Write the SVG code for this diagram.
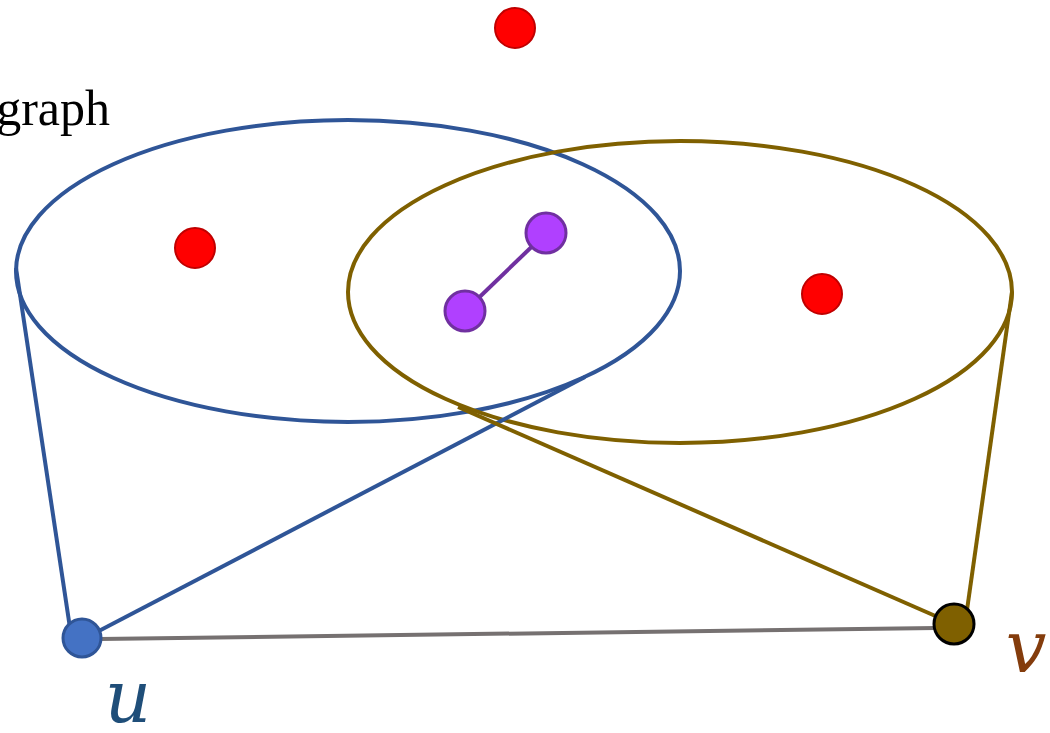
<svg xmlns="http://www.w3.org/2000/svg" width="1050" height="733" viewBox="0 0 1050 733">
<style>
.blue{stroke:#2f5597;stroke-width:4;fill:none}
.gold{stroke:#7f6000;stroke-width:4;fill:none}
.red{fill:#ff0000;stroke:#c00000;stroke-width:2}
.purple{fill:#b040ff;stroke:#7030a0;stroke-width:3}
</style>
<rect width="1050" height="733" fill="#fff"/>
<g id="connectors">
<ellipse class="blue" cx="348" cy="271" rx="332" ry="151"/>
<ellipse class="gold" cx="680" cy="292" rx="332" ry="151"/>
<line class="blue" x1="16" y1="268" x2="70" y2="628"/>
<line class="blue" x1="585" y1="377" x2="95" y2="633"/>
<line class="gold" x1="1012" y1="292" x2="967" y2="610"/>
<line class="gold" x1="458" y1="407" x2="940" y2="618"/>
<line x1="100" y1="639" x2="936" y2="628" stroke="#767171" stroke-width="4"/>
<line x1="465" y1="311" x2="546" y2="233" stroke="#7030a0" stroke-width="4"/>
</g>
<g id="label-graph"><text x="110" y="125" text-anchor="end" font-family="Liberation Serif, serif" font-size="50" fill="#000">graph</text></g>
<g id="red1"><circle class="red" cx="515" cy="28" r="20"/></g>
<g id="red2"><circle class="red" cx="195" cy="248" r="20"/></g>
<g id="red3"><circle class="red" cx="822" cy="294" r="20"/></g>
<g id="p1"><circle class="purple" cx="546" cy="233" r="20"/></g>
<g id="p2"><circle class="purple" cx="465" cy="311" r="20"/></g>
<g id="u"><circle cx="82" cy="638" r="19" fill="#4472c4" stroke="#2f5597" stroke-width="3"/>
<text x="128" y="722" text-anchor="middle" font-family="DejaVu Serif, serif" font-style="italic" font-size="72" fill="#1f4e79">u</text></g>
<g id="v"><circle cx="954" cy="624" r="20" fill="#7f6000" stroke="#000" stroke-width="3"/>
<text x="1026" y="672" text-anchor="middle" font-family="DejaVu Serif, serif" font-style="italic" font-size="72" fill="#843c0c">v</text></g>
</svg>
